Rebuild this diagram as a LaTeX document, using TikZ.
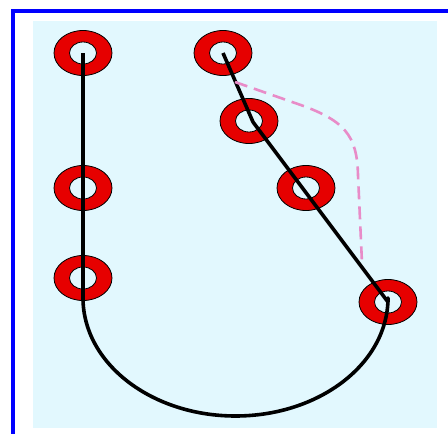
\documentclass[tikz,border=0pt]{standalone}
\usetikzlibrary{shapes.geometric}
\definecolor{bgcyan}{RGB}{226,248,254}
\definecolor{framebl}{RGB}{0,0,255}
\definecolor{ringred}{RGB}{230,0,0}
\definecolor{pinkd}{RGB}{232,140,200}
\tikzset{
  ringout/.style={ellipse, draw=black, line width=0.8pt, fill=ringred, inner sep=0pt, minimum width=58pt, minimum height=45pt},
  ringin/.style={ellipse, draw=black, line width=0.8pt, fill=bgcyan, inner sep=0pt, minimum width=27pt, minimum height=22pt},
  wire/.style={line width=3.6pt, black, line join=round},
  guide/.style={line width=2.6pt, pinkd, dash pattern=on 13pt off 7pt}
}
\begin{document}
\begin{tikzpicture}[x=1pt,y=1pt]
\useasboundingbox (0,0) rectangle (448,-434);
\clip (0,0) rectangle (448,-434);
\fill[white] (0,0) rectangle (448,-434);
\draw[framebl, line width=4pt] (13,-460) -- (13,-10.5) -- (470,-10.5);
\fill[bgcyan] (33,-21) rectangle (437,-428);
% rings
\foreach \n/\x/\y in {A/83/53, B/83/188, C/83/278, D/223/53, E/249/121, F/306/188, G/388/302}{
  \node[ringout] (\n) at (\x,-\y) {};
  \node[ringin] (\n i) at (\x,-\y) {};
}
\coordinate (Lb) at (83,-298);
\coordinate (Ek) at (253,-122);
\draw[wire] (A.center) -- (Lb) arc[start angle=180, end angle=360, x radius=152.5pt, y radius=118pt] -- (G.center) -- (Ek) -- (D.center);
\coordinate (P0) at (235,-82);
\coordinate (P1) at (362,-263);
\draw[guide] (P0) -- (295,-103) .. controls (345,-120) and (357,-135) .. (358,-175) -- (P1);
\end{tikzpicture}
\end{document}
